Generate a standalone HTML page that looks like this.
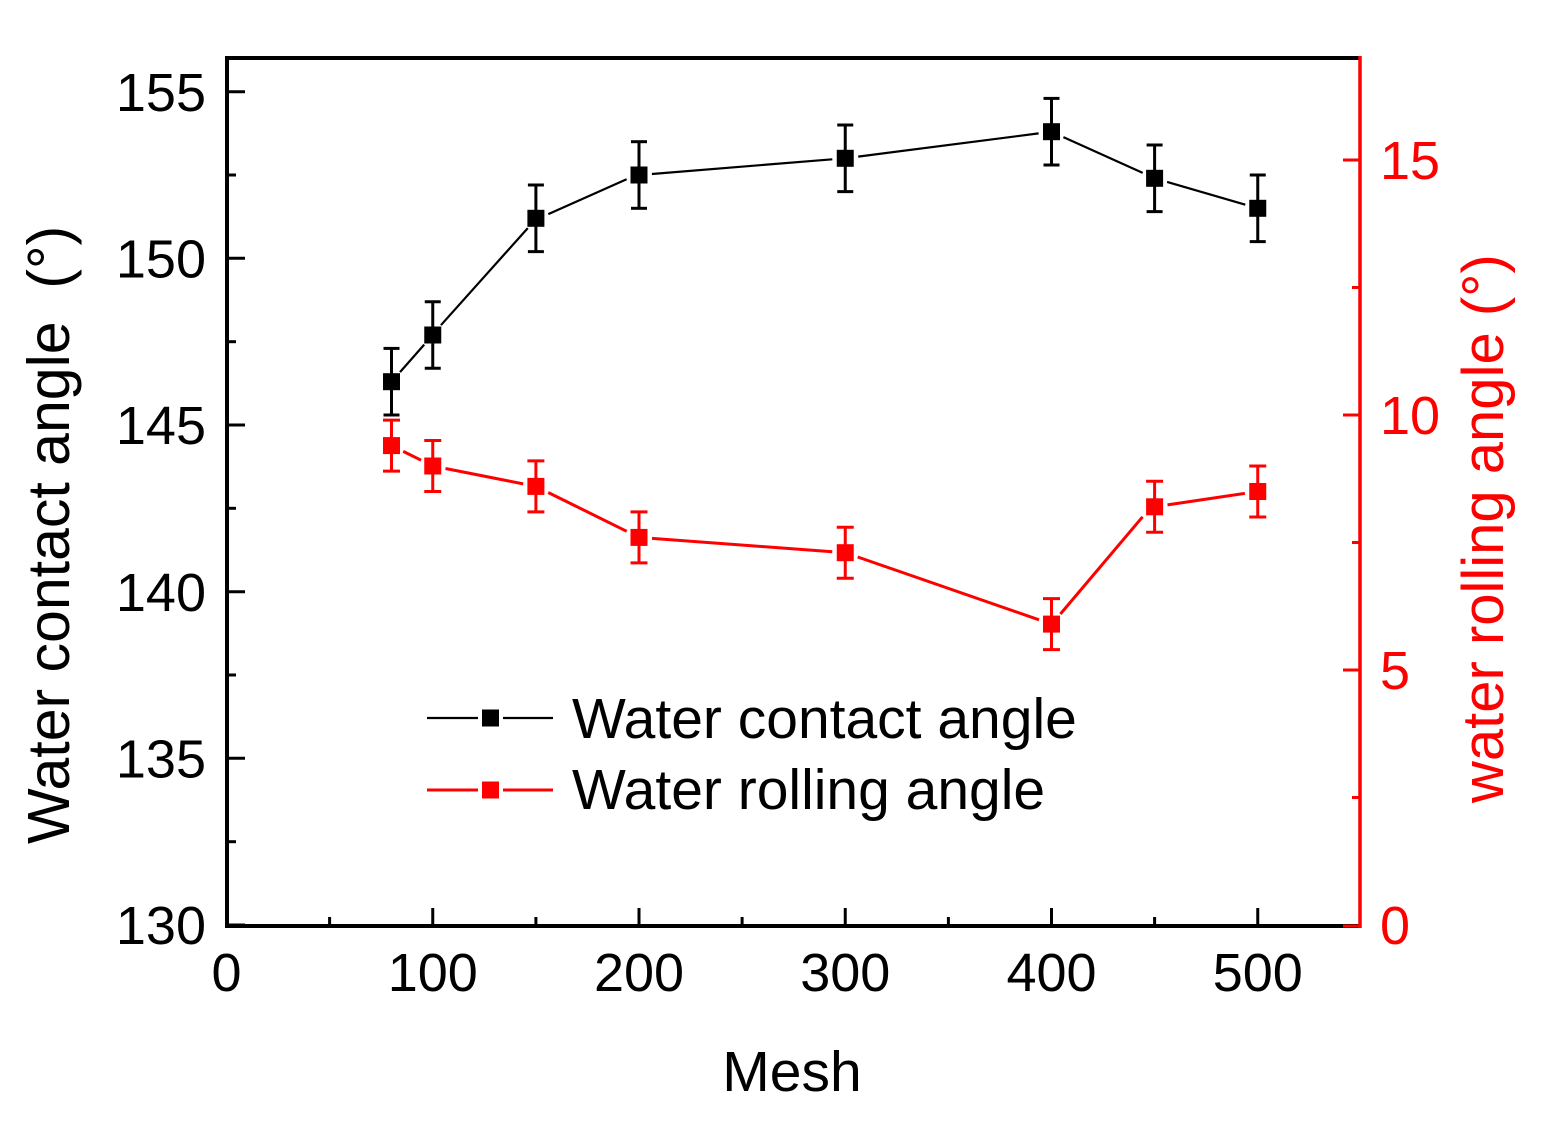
<!DOCTYPE html>
<html>
<head>
<meta charset="utf-8">
<style>
  html, body { margin: 0; padding: 0; background: #ffffff; }
  svg { display: block; }
  text { font-family: "Liberation Sans", Arial, sans-serif; }
</style>
</head>
<body>
<svg width="1560" height="1128" viewBox="0 0 1560 1128" xmlns="http://www.w3.org/2000/svg">
  <rect x="0" y="0" width="1560" height="1128" fill="#ffffff"/>

  <!-- Frame -->
  <line x1="227" y1="56" x2="227" y2="928" stroke="#000" stroke-width="4"/>
  <line x1="225" y1="58" x2="1360" y2="58" stroke="#000" stroke-width="4"/>
  <line x1="225" y1="926" x2="1360" y2="926" stroke="#000" stroke-width="4"/>
  <line x1="1360" y1="56" x2="1360" y2="928" stroke="#ff0000" stroke-width="3.5"/>

  <!-- Left ticks -->
  <g stroke="#000" stroke-width="3">
    <line x1="227" y1="925" x2="245" y2="925"/>
    <line x1="227" y1="841.7" x2="236" y2="841.7"/>
    <line x1="227" y1="758.3" x2="245" y2="758.3"/>
    <line x1="227" y1="675" x2="236" y2="675"/>
    <line x1="227" y1="591.7" x2="245" y2="591.7"/>
    <line x1="227" y1="508.3" x2="236" y2="508.3"/>
    <line x1="227" y1="425" x2="245" y2="425"/>
    <line x1="227" y1="341.7" x2="236" y2="341.7"/>
    <line x1="227" y1="258.3" x2="245" y2="258.3"/>
    <line x1="227" y1="175" x2="236" y2="175"/>
    <line x1="227" y1="91.7" x2="245" y2="91.7"/>
  </g>

  <!-- Bottom ticks -->
  <g stroke="#000" stroke-width="3">
    <line x1="329.6" y1="926" x2="329.6" y2="917"/>
    <line x1="432.75" y1="926" x2="432.75" y2="908"/>
    <line x1="535.9" y1="926" x2="535.9" y2="917"/>
    <line x1="639" y1="926" x2="639" y2="908"/>
    <line x1="742.1" y1="926" x2="742.1" y2="917"/>
    <line x1="845.25" y1="926" x2="845.25" y2="908"/>
    <line x1="948.4" y1="926" x2="948.4" y2="917"/>
    <line x1="1051.5" y1="926" x2="1051.5" y2="908"/>
    <line x1="1154.6" y1="926" x2="1154.6" y2="917"/>
    <line x1="1257.75" y1="926" x2="1257.75" y2="908"/>
  </g>

  <!-- Right ticks (red) -->
  <g stroke="#ff0000" stroke-width="3">
    <line x1="1360" y1="926" x2="1343" y2="926"/>
    <line x1="1360" y1="797.5" x2="1352" y2="797.5"/>
    <line x1="1360" y1="670" x2="1343" y2="670"/>
    <line x1="1360" y1="542.5" x2="1352" y2="542.5"/>
    <line x1="1360" y1="415" x2="1343" y2="415"/>
    <line x1="1360" y1="287.5" x2="1352" y2="287.5"/>
    <line x1="1360" y1="160" x2="1343" y2="160"/>
  </g>

  <!-- Left tick labels -->
  <g font-size="54" fill="#000" text-anchor="end">
    <text x="206" y="944">130</text>
    <text x="206" y="777.5">135</text>
    <text x="206" y="611">140</text>
    <text x="206" y="444">145</text>
    <text x="206" y="277.5">150</text>
    <text x="206" y="111">155</text>
  </g>

  <!-- Bottom tick labels -->
  <g font-size="54" fill="#000" text-anchor="middle">
    <text x="226.5" y="991">0</text>
    <text x="432.75" y="991">100</text>
    <text x="639" y="991">200</text>
    <text x="845.25" y="991">300</text>
    <text x="1051.5" y="991">400</text>
    <text x="1257.75" y="991">500</text>
  </g>

  <!-- Right tick labels -->
  <g font-size="54" fill="#ff0000" text-anchor="start">
    <text x="1380" y="944">0</text>
    <text x="1380" y="689">5</text>
    <text x="1380" y="434">10</text>
    <text x="1380" y="179">15</text>
  </g>

  <!-- Axis titles -->
  <text x="792" y="1091" font-size="57" fill="#000" text-anchor="middle">Mesh</text>
  <text transform="translate(69,844) rotate(-90)" font-size="59" fill="#000" xml:space="preserve">Water contact angle  (°)</text>
  <text transform="translate(1503,803) rotate(-90)" font-size="58" fill="#ff0000">water rolling angle (°)</text>

  <!-- Black series connecting lines (with gaps near markers) -->
  <g stroke="#000" stroke-width="2.2" fill="none" id="blines"></g>
  <!-- Red series connecting lines -->
  <g stroke="#ff0000" stroke-width="3" fill="none" id="rlines"></g>

  <!-- Black series: precomputed -->
  <g stroke="#000" stroke-width="2.2">
    <!-- x: 80->391.5, 100->432.75, 150->535.9, 200->639, 300->845.25, 400->1051.5, 450->1154.6, 500->1257.75 -->
    <!-- y: 146.3->381.7, 147.7->335.0, 151.2->218.3, 152.5->175.0, 153.0->158.3, 153.8->131.7, 152.4->178.3, 151.5->208.3 -->
    <line x1="400.0" y1="372.1" x2="424.2" y2="344.6"/>
    <line x1="440.9" y1="325.2" x2="527.8" y2="228.1"/>
    <line x1="548.3" y1="214.1" x2="626.6" y2="179.2"/>
    <line x1="651.9" y1="174.0" x2="832.3" y2="159.3"/>
    <line x1="858.2" y1="156.6" x2="1038.6" y2="133.4"/>
    <line x1="1063.4" y1="137.1" x2="1142.7" y2="172.9"/>
    <line x1="1167.1" y1="181.9" x2="1245.3" y2="204.7"/>
  </g>
  <g stroke="#ff0000" stroke-width="3">
    <!-- red y: 9.4->445.6, 9.0->466.0, 8.6->486.4, 7.6->537.4, 7.3->552.7, 5.9->624.1, 8.2->506.8, 8.5->491.5 -->
    <line x1="403.2" y1="451.4" x2="421.1" y2="460.2"/>
    <line x1="445.5" y1="468.5" x2="523.2" y2="483.9"/>
    <line x1="548.2" y1="492.5" x2="626.7" y2="531.3"/>
    <line x1="652.0" y1="538.4" x2="832.3" y2="551.7"/>
    <line x1="857.7" y1="557.0" x2="1039.0" y2="619.8"/>
    <line x1="1060.4" y1="614.0" x2="1142.6" y2="516.8"/>
    <line x1="1167.5" y1="504.9" x2="1244.9" y2="493.4"/>
  </g>

  <!-- Black error bars -->
  <g stroke="#000" stroke-width="3">
    <line x1="391.5" y1="348.4" x2="391.5" y2="415.0"/><line x1="383.5" y1="348.4" x2="399.5" y2="348.4"/><line x1="383.5" y1="415.0" x2="399.5" y2="415.0"/>
    <line x1="432.75" y1="301.7" x2="432.75" y2="368.3"/><line x1="424.75" y1="301.7" x2="440.75" y2="301.7"/><line x1="424.75" y1="368.3" x2="440.75" y2="368.3"/>
    <line x1="535.9" y1="185.0" x2="535.9" y2="251.6"/><line x1="527.9" y1="185.0" x2="543.9" y2="185.0"/><line x1="527.9" y1="251.6" x2="543.9" y2="251.6"/>
    <line x1="639" y1="141.7" x2="639" y2="208.3"/><line x1="631" y1="141.7" x2="647" y2="141.7"/><line x1="631" y1="208.3" x2="647" y2="208.3"/>
    <line x1="845.25" y1="125.0" x2="845.25" y2="191.6"/><line x1="837.25" y1="125.0" x2="853.25" y2="125.0"/><line x1="837.25" y1="191.6" x2="853.25" y2="191.6"/>
    <line x1="1051.5" y1="98.4" x2="1051.5" y2="165.0"/><line x1="1043.5" y1="98.4" x2="1059.5" y2="98.4"/><line x1="1043.5" y1="165.0" x2="1059.5" y2="165.0"/>
    <line x1="1154.6" y1="145.0" x2="1154.6" y2="211.6"/><line x1="1146.6" y1="145.0" x2="1162.6" y2="145.0"/><line x1="1146.6" y1="211.6" x2="1162.6" y2="211.6"/>
    <line x1="1257.75" y1="175.0" x2="1257.75" y2="241.6"/><line x1="1249.75" y1="175.0" x2="1265.75" y2="175.0"/><line x1="1249.75" y1="241.6" x2="1265.75" y2="241.6"/>
  </g>

  <!-- Red error bars -->
  <g stroke="#ff0000" stroke-width="3">
    <line x1="391.5" y1="420.1" x2="391.5" y2="471.1"/><line x1="383" y1="420.1" x2="400" y2="420.1"/><line x1="383" y1="471.1" x2="400" y2="471.1"/>
    <line x1="432.75" y1="440.5" x2="432.75" y2="491.5"/><line x1="424.25" y1="440.5" x2="441.25" y2="440.5"/><line x1="424.25" y1="491.5" x2="441.25" y2="491.5"/>
    <line x1="535.9" y1="460.9" x2="535.9" y2="511.9"/><line x1="527.4" y1="460.9" x2="544.4" y2="460.9"/><line x1="527.4" y1="511.9" x2="544.4" y2="511.9"/>
    <line x1="639" y1="511.9" x2="639" y2="562.9"/><line x1="630.5" y1="511.9" x2="647.5" y2="511.9"/><line x1="630.5" y1="562.9" x2="647.5" y2="562.9"/>
    <line x1="845.25" y1="527.2" x2="845.25" y2="578.2"/><line x1="836.75" y1="527.2" x2="853.75" y2="527.2"/><line x1="836.75" y1="578.2" x2="853.75" y2="578.2"/>
    <line x1="1051.5" y1="598.6" x2="1051.5" y2="649.6"/><line x1="1043" y1="598.6" x2="1060" y2="598.6"/><line x1="1043" y1="649.6" x2="1060" y2="649.6"/>
    <line x1="1154.6" y1="481.3" x2="1154.6" y2="532.3"/><line x1="1146.1" y1="481.3" x2="1163.1" y2="481.3"/><line x1="1146.1" y1="532.3" x2="1163.1" y2="532.3"/>
    <line x1="1257.75" y1="466.0" x2="1257.75" y2="517.0"/><line x1="1249.25" y1="466.0" x2="1266.25" y2="466.0"/><line x1="1249.25" y1="517.0" x2="1266.25" y2="517.0"/>
  </g>

  <!-- Black markers -->
  <g fill="#000">
    <rect x="383" y="373.2" width="17" height="17"/>
    <rect x="424.25" y="326.5" width="17" height="17"/>
    <rect x="527.4" y="209.8" width="17" height="17"/>
    <rect x="630.5" y="166.5" width="17" height="17"/>
    <rect x="836.75" y="149.8" width="17" height="17"/>
    <rect x="1043" y="123.2" width="17" height="17"/>
    <rect x="1146.1" y="169.8" width="17" height="17"/>
    <rect x="1249.25" y="199.8" width="17" height="17"/>
  </g>

  <!-- Red markers -->
  <g fill="#ff0000">
    <rect x="383" y="437.1" width="17" height="17"/>
    <rect x="424.25" y="457.5" width="17" height="17"/>
    <rect x="527.4" y="477.9" width="17" height="17"/>
    <rect x="630.5" y="528.9" width="17" height="17"/>
    <rect x="836.75" y="544.2" width="17" height="17"/>
    <rect x="1043" y="615.6" width="17" height="17"/>
    <rect x="1146.1" y="498.3" width="17" height="17"/>
    <rect x="1249.25" y="483.0" width="17" height="17"/>
  </g>

  <!-- Legend -->
  <line x1="427" y1="718" x2="478" y2="718" stroke="#000" stroke-width="2.2"/>
  <line x1="503" y1="718" x2="553" y2="718" stroke="#000" stroke-width="2.2"/>
  <rect x="482" y="709.5" width="17" height="17" fill="#000"/>
  <text x="572" y="738" font-size="57" fill="#000">Water contact angle</text>

  <line x1="427" y1="790" x2="478" y2="790" stroke="#ff0000" stroke-width="3"/>
  <line x1="503" y1="790" x2="553" y2="790" stroke="#ff0000" stroke-width="3"/>
  <rect x="482" y="781.5" width="17" height="17" fill="#ff0000"/>
  <text x="572" y="809" font-size="57" fill="#000">Water rolling angle</text>
</svg>
</body>
</html>
